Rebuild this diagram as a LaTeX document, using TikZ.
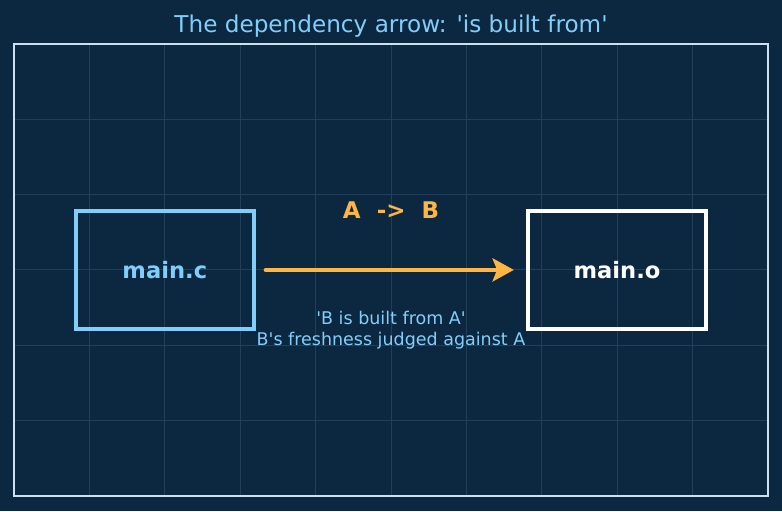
\documentclass[tikz,border=0pt]{standalone}
\usepackage{fontspec}
\setmainfont{DejaVu Sans}[Ligatures=TeXOff]
\usepackage{xcolor}
\usepackage{tikz}
\usetikzlibrary{
    positioning,
    arrows.meta,
    calc
}
\definecolor{nightNavy}{RGB}{12, 40, 64}
\definecolor{gridNavy}{RGB}{33, 63, 88}
\definecolor{frameGray}{RGB}{205, 224, 238}
\definecolor{skyBlue}{RGB}{130, 206, 250}
\definecolor{buildOrange}{RGB}{255, 180, 70}

\begin{document}
\begin{tikzpicture}[x=1.5cm, y=1.5cm, >=Stealth,
        fileBox/.style={draw, line width=2.2pt, minimum width=3.55cm, minimum height=2.34cm,
            font=\bfseries\fontsize{12.8}{15}\selectfont},
        noteText/.style={font=\fontsize{9.9}{11.8}\selectfont, align=center}]
        \fill[nightNavy] (-0.186,-0.2) rectangle (10.186,6.58);
        \useasboundingbox (-0.186,-0.2) rectangle (10.186,6.58);
        \draw[gridNavy, line width=0.5pt, step=1.5cm] (0,0) grid (10,6);
        \draw[frameGray, line width=1.1pt] (0,0) rectangle (10,6);
        \node[skyBlue, font=\fontsize{13.1}{15}\selectfont] (title) at (5,6.23) {The dependency arrow: 'is built from'};

        \node[fileBox, skyBlue] (src) at (2,3) {main.c};
        \node[fileBox, white, right=5.37cm of src] (obj) {main.o};

        \draw[->, buildOrange, line width=2.7pt, line cap=round, shorten <=0.2cm, shorten >=0.24cm,
            arrows={-Stealth[length=12pt, width=13pt, inset=2.5pt]}] (src) -- (obj);
        \node[buildOrange, font=\bfseries\fontsize{13}{15}\selectfont] (rule) at (5,3.79) {A\ \ ->\ \ B};
        \node[noteText, skyBlue] (note) at (5,2.2) {'B is built from A'\\B's freshness judged against A};
    \end{tikzpicture}
\end{document}
